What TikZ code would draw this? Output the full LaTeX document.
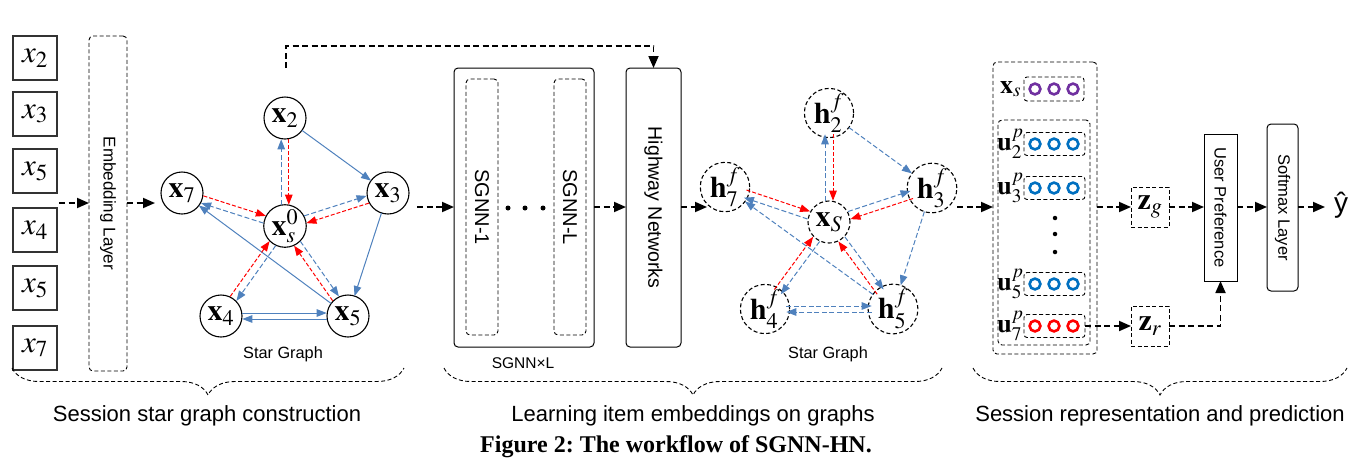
\documentclass[tikz,border=0pt]{standalone}
\usepackage{mathptmx}
\usepackage[no-math]{fontspec}
\newfontfamily\arial{Liberation Sans}
\newfontfamily\capfont{Liberation Serif}
\usetikzlibrary{arrows.meta,calc,decorations.pathreplacing}
\definecolor{bluec}{HTML}{4F81BD}
\definecolor{purp}{HTML}{7030A0}
\definecolor{cblue}{HTML}{0070C0}
\newcommand\offedge[4]{\draw[#1, shorten <=21.3pt, shorten >=21.3pt] ($(#2.center)!#4!90:(#3.center)$) -- ($(#3.center)!#4!-90:(#2.center)$);}
\newcommand\starpair[4]{\offedge{#3}{#1}{#2}{#4}\offedge{rd}{#2}{#1}{#4}}
\tikzset{
 every node/.style={inner sep=0pt, outer sep=0pt},
 inbox/.style={draw=black!80, line width=1.2pt, minimum width=44pt, minimum height=44pt, font=\fontsize{31}{33}\selectfont},
 dbox/.style={draw, line width=0.9pt, dash pattern=on 4pt off 2.5pt, rounded corners=4pt},
 sbox/.style={draw, line width=1pt, rounded corners=4pt},
 gnode/.style={circle, draw, line width=1.1pt, minimum size=42pt, font=\fontsize{30}{32}\selectfont},
 hnode/.style={gnode, dash pattern=on 4pt off 2.5pt},
 flow/.style={line width=1.8pt, dash pattern=on 6pt off 3.5pt, -{Triangle[length=12pt,width=10pt]}},
 bl/.style={draw=bluec, line width=1pt, -{Triangle[length=10pt,width=7.5pt]}},
 bld/.style={bl, dash pattern=on 5pt off 2.5pt},
 rd/.style={draw=red, line width=1pt, dash pattern=on 4pt off 2pt, -{Triangle[length=10pt,width=7.5pt]}},
 lbl/.style={font=\arial\fontsize{16.3}{18}\selectfont},
 vec/.style={circle, draw, line width=2.6pt, minimum size=10.8pt},
 rowbox/.style={dbox, rounded corners=3pt, minimum width=61pt, minimum height=23pt},
 vlab/.style={anchor=east, font=\fontsize{26}{28}\selectfont},
 zbox/.style={draw, line width=0.9pt, dash pattern=on 4pt off 2.5pt, minimum width=38pt, minimum height=40pt, font=\fontsize{30}{32}\selectfont},
 sect/.style={anchor=base, font=\arial\fontsize{22}{24}\selectfont},
 bracestyle/.style={line width=0.9pt, dash pattern=on 4pt off 2.5pt, decorate, decoration={brace, mirror, amplitude=27pt}},
 dotn/.style={circle, fill, minimum size=5pt}
}
\begin{document}
\frenchspacing
\begin{tikzpicture}[x=1pt,y=-1pt]
\useasboundingbox (0,0) rectangle (1364,464);
% inputs
\node[inbox] (ina) at (35,58) {$x_2$};
\node[inbox] (inb) at (35,114) {$x_3$};
\node[inbox] (inc) at (35,171) {$x_5$};
\node[inbox] (ind) at (35,230) {$x_4$};
\node[inbox] (ine) at (35,288) {$x_5$};
\node[inbox] (inf) at (35,348) {$x_7$};
\node[dbox, minimum width=38pt, minimum height=335pt] (emb) at (108,203.5) {\rotatebox{-90}{\arial\fontsize{17}{19}\selectfont Embedding Layer}};
\coordinate (e1) at (59,203);
\coordinate (g1in) at (155,203);
\draw[flow] (e1) -- (emb.west |- e1);
\draw[flow] (emb.east |- e1) -- (g1in);
% graph 1
\node[gnode] (x2) at (285,118) {$\mathbf{x}_2$};
\node[gnode] (x7) at (182,193) {$\mathbf{x}_7$};
\node[gnode] (x3) at (388,193) {$\mathbf{x}_3$};
\node[gnode] (xs) at (285,226) {$\mathbf{x}_s^0$};
\node[gnode] (x4) at (221,316) {$\mathbf{x}_4$};
\node[gnode] (x5) at (348,316) {$\mathbf{x}_5$};
\node[lbl] (sglab1) at (283,354) {Star Graph};
\draw[bl] (x2) -- (x3);
\draw[bl] (x3) -- (x5);
\draw[bl] (x5) -- (x7);
\offedge{bl}{x4}{x5}{3pt}
\offedge{bl}{x5}{x4}{3pt}
\starpair{xs}{x2}{bld}{3.8pt}
\starpair{xs}{x7}{bld}{3.8pt}
\starpair{xs}{x3}{bld}{3.8pt}
\starpair{xs}{x4}{bld}{3.8pt}
\starpair{xs}{x5}{bld}{3.8pt}
% SGNN
\node[sbox, minimum width=140pt, minimum height=279pt] (sg) at (524,207.5) {};
\node[dbox, minimum width=32pt, minimum height=256pt] (sg1) at (482,207) {\rotatebox{-90}{\arial\fontsize{20}{22}\selectfont SGNN-1}};
\node[dbox, minimum width=32pt, minimum height=256pt] (sgL) at (570,207) {\rotatebox{-90}{\arial\fontsize{20}{22}\selectfont SGNN-L}};
\node[dotn] (d1) at (508,208) {};
\node[dotn] (d2) at (525,208) {};
\node[dotn] (d3) at (543,208) {};
\node[font=\arial\fontsize{15.5}{17}\selectfont] (sgxl) at (523,363) {SGNN×L};
\node[sbox, minimum width=55pt, minimum height=279pt] (hw) at (653.5,207.5) {\rotatebox{-90}{\arial\fontsize{19.5}{22}\selectfont Highway Networks}};
\coordinate (g1out) at (417,207);
\draw[flow] (g1out) -- (sg.west |- g1out);
\draw[flow] (sg.east |- g1out) -- (hw.west |- g1out);
\coordinate (fb) at (286,68);
\coordinate (fbtop) at (286,46);
\draw[flow] (fb) -- (fbtop) -| (hw.north);
\coordinate (g2in) at (707,207);
\draw[flow] (hw.east |- g2in) -- (g2in);
% graph 2
\node[hnode] (h2) at (829,113) {$\mathbf{h}_2^f$};
\node[hnode] (h7) at (725,187) {$\mathbf{h}_7^f$};
\node[hnode] (h3) at (932,188) {$\mathbf{h}_3^f$};
\node[hnode] (hs) at (829,222) {$\mathbf{x}_S$};
\node[hnode] (h4) at (765,309) {$\mathbf{h}_4^f$};
\node[hnode] (h5) at (893,309) {$\mathbf{h}_5^f$};
\node[lbl] (sglab2) at (828,354) {Star Graph};
\draw[bld] (h2) -- (h3);
\draw[bld] (h3) -- (h5);
\draw[bld] (h5) -- (h7);
\offedge{bld}{h4}{h5}{3pt}
\offedge{bld}{h5}{h4}{3pt}
\starpair{hs}{h2}{bld}{4pt}
\starpair{hs}{h7}{bld}{4pt}
\starpair{hs}{h3}{bld}{4pt}
\starpair{hs}{h4}{bld}{4pt}
\starpair{hs}{h5}{bld}{4pt}
% right part
\node[dbox, minimum width=104pt, minimum height=292pt] (big) at (1045,208) {};
\node[rowbox, minimum width=60pt, minimum height=24pt] (rxs) at (1054,89) {};
\node[vlab] (lxs) at ([xshift=-3pt]rxs.west) {$\mathbf{x}_s$};
\foreach \cx [count=\i] in {1035,1054,1073} \node[vec, draw=purp] (cx\i) at (\cx,89) {};
\node[dbox, minimum width=92pt, minimum height=225pt] (ug) at (1044,232.5) {};
\foreach \yy/\k/\cc in {144/2/cblue, 188/3/cblue, 284/5/cblue, 326/7/red}{
  \node[rowbox] (ru\k) at (1054.5,\yy) {};
  \node[vlab] (lu\k) at ([xshift=-0.5pt]ru\k.west) {$\mathbf{u}_{\k}^{p}$};
  \foreach \cx [count=\i] in {1035,1054,1073} \node[vec, draw=\cc] (cu\k\i) at (\cx,\yy) {};
}
\node[dotn, minimum size=4.5pt] (vd1) at (1055,218) {};
\node[dotn, minimum size=4.5pt] (vd2) at (1055,234) {};
\node[dotn, minimum size=4.5pt] (vd3) at (1055,252) {};
\node[zbox] (zg) at (1150,207) {$\mathbf{z}_g$};
\node[zbox] (zr) at (1150,326) {$\mathbf{z}_r$};
\node[draw, line width=1pt, minimum width=33pt, minimum height=147pt] (up) at (1220.5,207.5) {\rotatebox{-90}{\arial\fontsize{16.5}{18}\selectfont User Preference}};
\node[sbox, minimum width=31pt, minimum height=167pt] (sm) at (1282.5,207.5) {\rotatebox{-90}{\arial\fontsize{16.5}{18}\selectfont Softmax Layer}};
\node[font=\arial\fontsize{28}{30}\selectfont] (yhat) at (1341,205) {ŷ};
\coordinate (r0) at (957,207);
\coordinate (yin) at (1325,207);
\draw[flow] (r0) -- (big.west |- r0);
\draw[flow] (big.east |- zg) -- (zg.west);
\draw[flow] (zg.east) -- (up.west |- zg);
\draw[flow] (up.east |- zg) -- (sm.west |- zg);
\draw[flow] (sm.east |- zg) -- (yin);
\draw[flow] (ru7.east) -- (zr.west);
\draw[flow] (zr.east) -| (up.south);
% braces
\draw[bracestyle] (12,368) -- (404,368);
\draw[bracestyle] (444,368) -- (942,368);
\draw[bracestyle] (973,368) -- (1347,368);
\node[sect] (s1) at (207,421) {Session star graph construction};
\node[sect] (s2) at (693,421) {Learning item embeddings on graphs};
\node[sect] (s3) at (1160,421) {Session representation and prediction};
\node[anchor=base, font=\capfont\bfseries\fontsize{24}{26}\selectfont] (cap) at (676,452) {Figure 2: The workflow of SGNN-HN.};
\end{tikzpicture}
\end{document}
